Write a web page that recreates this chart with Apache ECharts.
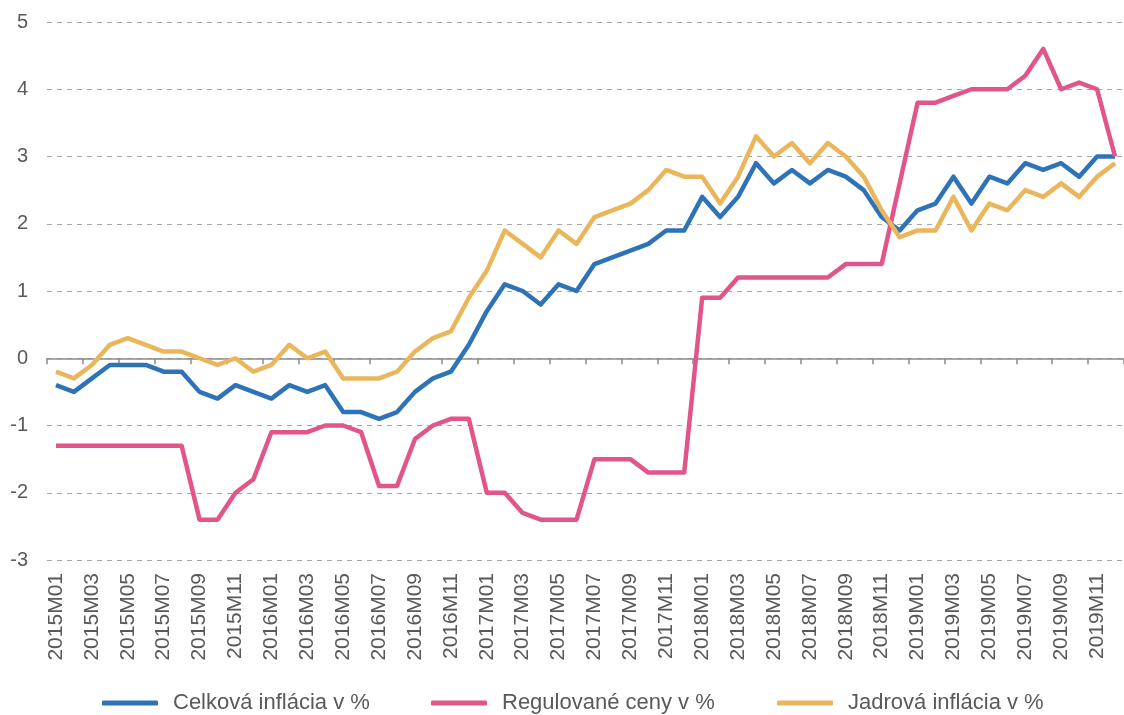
<!DOCTYPE html>
<html>
<head>
<meta charset="utf-8">
<title>Inflácia</title>
<script src="https://cdn.jsdelivr.net/npm/echarts@6/dist/echarts.min.js"></script>
<style>
    html, body { margin: 0; padding: 0; background: #fff; }
    #chart { width: 1124px; height: 715px; }
</style>
</head>
<body>
<div id="chart"></div>
<script>
var years = [2015, 2016, 2017, 2018, 2019];
var months = [];
for (var y = 0; y < years.length; y++) {
    for (var m = 1; m <= 12; m++) {
        months.push(years[y] + 'M' + (m < 10 ? '0' + m : m));
    }
}

var celkova = [
    -0.4, -0.5, -0.3, -0.1, -0.1, -0.1, -0.2, -0.2, -0.5, -0.6, -0.4, -0.5,
    -0.6, -0.4, -0.5, -0.4, -0.8, -0.8, -0.9, -0.8, -0.5, -0.3, -0.2, 0.2,
    0.7, 1.1, 1.0, 0.8, 1.1, 1.0, 1.4, 1.5, 1.6, 1.7, 1.9, 1.9,
    2.4, 2.1, 2.4, 2.9, 2.6, 2.8, 2.6, 2.8, 2.7, 2.5, 2.1, 1.9,
    2.2, 2.3, 2.7, 2.3, 2.7, 2.6, 2.9, 2.8, 2.9, 2.7, 3.0, 3.0
];
var regulovane = [
    -1.3, -1.3, -1.3, -1.3, -1.3, -1.3, -1.3, -1.3, -2.4, -2.4, -2.0, -1.8,
    -1.1, -1.1, -1.1, -1.0, -1.0, -1.1, -1.9, -1.9, -1.2, -1.0, -0.9, -0.9,
    -2.0, -2.0, -2.3, -2.4, -2.4, -2.4, -1.5, -1.5, -1.5, -1.7, -1.7, -1.7,
    0.9, 0.9, 1.2, 1.2, 1.2, 1.2, 1.2, 1.2, 1.4, 1.4, 1.4, 2.6,
    3.8, 3.8, 3.9, 4.0, 4.0, 4.0, 4.2, 4.6, 4.0, 4.1, 4.0, 3.0
];
var jadrova = [
    -0.2, -0.3, -0.1, 0.2, 0.3, 0.2, 0.1, 0.1, 0.0, -0.1, 0.0, -0.2,
    -0.1, 0.2, 0.0, 0.1, -0.3, -0.3, -0.3, -0.2, 0.1, 0.3, 0.4, 0.9,
    1.3, 1.9, 1.7, 1.5, 1.9, 1.7, 2.1, 2.2, 2.3, 2.5, 2.8, 2.7,
    2.7, 2.3, 2.7, 3.3, 3.0, 3.2, 2.9, 3.2, 3.0, 2.7, 2.2, 1.8,
    1.9, 1.9, 2.4, 1.9, 2.3, 2.2, 2.5, 2.4, 2.6, 2.4, 2.7, 2.9
];

var seriesNames = ['Celková inflácia v %', 'Regulované ceny v %', 'Jadrová inflácia v %'];
var colors = ['#2e73b8', '#e1558b', '#eab65c'];
var legendLeft = [102, 431, 777];

var chart = echarts.init(document.getElementById('chart'));

function line(name, data, color) {
    return {
        name: name,
        type: 'line',
        data: data,
        xAxisIndex: 0,
        symbol: 'none',
        lineStyle: { width: 4.5, color: color, join: 'round' },
        itemStyle: { color: color },
        z: 3
    };
}

// one legend per item so each sits where the reference puts it
var legends = seriesNames.map(function (name, i) {
    return {
        top: 692,
        left: legendLeft[i],
        padding: 0,
        itemWidth: 56,
        itemHeight: 5,
        icon: 'roundRect',
        textStyle: { fontSize: 22, color: '#595959', padding: [0, 0, 0, 10] },
        data: [name]
    };
});

var option = {
    animation: false,
    textStyle: { fontFamily: 'Liberation Sans, Arial, sans-serif' },
    grid: { left: 47, right: 0, top: 22, bottom: 155, containLabel: false },
    legend: legends,
    xAxis: [
        {
            type: 'category',
            data: months,
            boundaryGap: true,
            axisLine: { onZero: true, lineStyle: { color: '#8c8c8c', width: 1.5 } },
            axisTick: { show: true, interval: 1, length: 6, lineStyle: { color: '#8c8c8c', width: 1.5 } },
            axisLabel: { show: false },
            splitLine: { show: false }
        },
        {
            type: 'category',
            data: months,
            position: 'bottom',
            boundaryGap: true,
            axisLine: { show: false, onZero: false },
            axisTick: { show: false },
            axisLabel: {
                interval: 1,
                rotate: 90,
                margin: 13,
                fontSize: 21,
                color: '#595959'
            },
            splitLine: { show: false }
        }
    ],
    yAxis: {
        type: 'value',
        min: -3,
        max: 5,
        interval: 1,
        axisLine: { show: false },
        axisTick: { show: false },
        axisLabel: { fontSize: 20, color: '#595959', margin: 19 },
        splitLine: { show: true, lineStyle: { color: '#a6a6a6', type: [5, 5], width: 1 } }
    },
    series: [
        line(seriesNames[0], celkova, colors[0]),
        line(seriesNames[1], regulovane, colors[1]),
        line(seriesNames[2], jadrova, colors[2])
    ]
};

chart.setOption(option);
</script>
</body>
</html>
